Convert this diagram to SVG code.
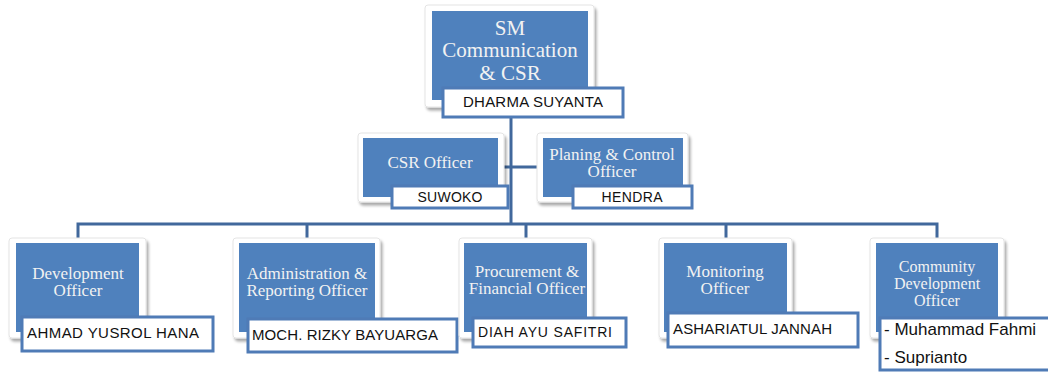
<svg xmlns="http://www.w3.org/2000/svg" width="1048" height="372" viewBox="0 0 1048 372">
<defs>
<filter id="sh" x="-10%" y="-10%" width="130%" height="130%">
<feGaussianBlur in="SourceAlpha" stdDeviation="1.6"/>
<feOffset dx="2" dy="3" result="b"/>
<feComponentTransfer><feFuncA type="linear" slope="0.35"/></feComponentTransfer>
<feMerge><feMergeNode/><feMergeNode in="SourceGraphic"/></feMerge>
</filter>
</defs>
<style>
.frame{fill:#ffffff;stroke:#e4e4e4;stroke-width:1;filter:url(#sh)}
.card{fill:#4f81bd}
.title{font-family:"Liberation Serif","Times New Roman",serif;font-size:17px;fill:#f2f2f2;text-anchor:middle}
.big{font-size:21px}
.sm{font-size:16px}
.nbox{fill:#ffffff;stroke:#4f7bb6;stroke-width:3}
.name{font-family:"Liberation Sans",Arial,sans-serif;font-size:15px;fill:#111111}
.n14{font-size:14px}
.n17{font-size:17px}
.mid{text-anchor:middle}
.conn{fill:none;stroke:#41689c;stroke-width:3}
</style>
<rect width="1048" height="372" fill="#ffffff"/>
<g id="connectors">
<path class="conn" d="M511,117 V224"/>
<path class="conn" d="M503,167 H537"/>
<path class="conn" d="M78,238 V224 H937 V238"/>
<path class="conn" d="M307,224 V238"/>
<path class="conn" d="M526,224 V238"/>
<path class="conn" d="M726,224 V238"/>
</g>
<g id="sm-communication">
<rect class="frame" x="425" y="5" width="169" height="102" rx="3"/>
<rect class="card" x="432" y="11" width="156" height="89"/>
<text class="title big" x="510" y="35">SM</text>
<text class="title big" x="510" y="57">Communication</text>
<text class="title big" x="510" y="80">&amp; CSR</text>
<rect class="nbox" x="443" y="88" width="180" height="29"/>
<text class="name mid" x="533" y="107" textLength="140">DHARMA SUYANTA</text>
</g>
<g id="csr-officer">
<rect class="frame" x="358" y="133" width="146" height="69" rx="3"/>
<rect class="card" x="363" y="138" width="135" height="59"/>
<text class="title" x="430" y="168">CSR Officer</text>
<rect class="nbox" x="392" y="186" width="116" height="22"/>
<text class="name n14 mid" x="450" y="202" textLength="65">SUWOKO</text>
</g>
<g id="planing-control-officer">
<rect class="frame" x="537" y="133" width="151" height="69" rx="3"/>
<rect class="card" x="543" y="138" width="140" height="59"/>
<text class="title" x="612" y="160">Planing &amp; Control</text>
<text class="title" x="612" y="177">Officer</text>
<rect class="nbox" x="573" y="186" width="119" height="22"/>
<text class="name n14 mid" x="632" y="202" textLength="61">HENDRA</text>
</g>
<g id="development-officer">
<rect class="frame" x="9" y="238" width="137" height="100" rx="3"/>
<rect class="card" x="16" y="243" width="123" height="89"/>
<text class="title" x="78" y="279">Development</text>
<text class="title" x="78" y="296">Officer</text>
<rect class="nbox" x="22" y="317" width="191" height="34"/>
<text class="name" x="27" y="338" textLength="172">AHMAD YUSROL HANA</text>
</g>
<g id="administration-reporting-officer">
<rect class="frame" x="233" y="238" width="147" height="100" rx="3"/>
<rect class="card" x="239" y="243" width="136" height="89"/>
<text class="title" x="307" y="279">Administration &amp;</text>
<text class="title" x="307" y="296">Reporting Officer</text>
<rect class="nbox" x="248" y="319" width="209" height="33"/>
<text class="name" x="252" y="340" textLength="186">MOCH. RIZKY BAYUARGA</text>
</g>
<g id="procurement-financial-officer">
<rect class="frame" x="459" y="238" width="133" height="100" rx="3"/>
<rect class="card" x="464" y="243" width="123" height="89"/>
<text class="title" x="527" y="277">Procurement &amp;</text>
<text class="title" x="527" y="294">Financial Officer</text>
<rect class="nbox" x="473" y="318" width="153" height="29"/>
<text class="name n14" x="478" y="337" textLength="134">DIAH AYU SAFITRI</text>
</g>
<g id="monitoring-officer">
<rect class="frame" x="659" y="238" width="133" height="100" rx="3"/>
<rect class="card" x="664" y="243" width="123" height="89"/>
<text class="title" x="725" y="277">Monitoring</text>
<text class="title" x="725" y="294">Officer</text>
<rect class="nbox" x="668" y="313" width="190" height="34"/>
<text class="name" x="673" y="334" textLength="159">ASHARIATUL JANNAH</text>
</g>
<g id="community-development-officer">
<rect class="frame" x="870" y="238" width="134" height="100" rx="3"/>
<rect class="card" x="876" y="243" width="122" height="89"/>
<text class="title sm" x="937" y="272">Community</text>
<text class="title sm" x="937" y="289">Development</text>
<text class="title sm" x="937" y="306">Officer</text>
<rect class="nbox" x="880" y="318" width="180" height="52"/>
<text class="name n17" x="884" y="335">- Muhammad Fahmi</text>
<text class="name n17" x="884" y="363">- Suprianto</text>
</g>
</svg>
